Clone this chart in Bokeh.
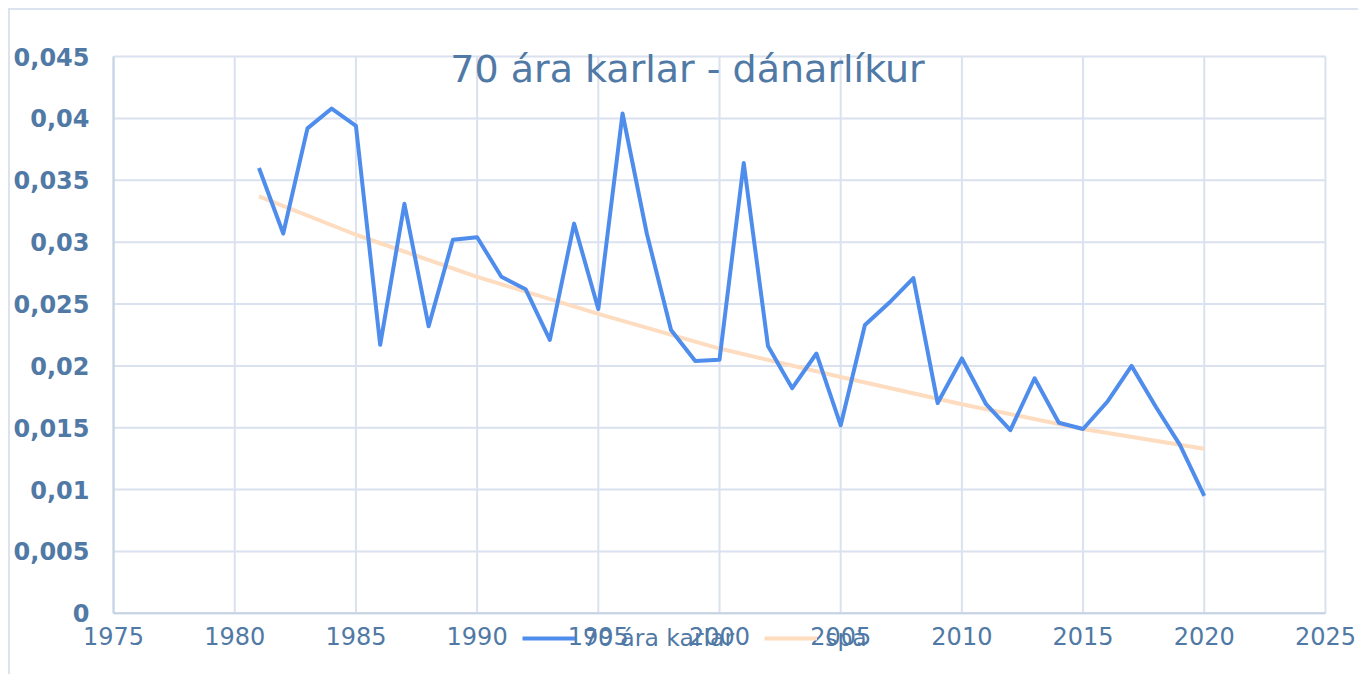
from bokeh.plotting import figure
from bokeh.models import FixedTicker, CustomJSTickFormatter, Legend, LegendItem, Label, Range1d
from bokeh.embed import file_html
from bokeh.resources import INLINE

years = list(range(1981, 2021))
death_prob = [0.0360, 0.0307, 0.0392, 0.0408, 0.0394, 0.0217, 0.0331, 0.0232, 0.0302, 0.0304,
              0.0272, 0.0262, 0.0221, 0.0315, 0.0246, 0.0404, 0.0307, 0.0229, 0.0204, 0.0205,
              0.0364, 0.0216, 0.0182, 0.0210, 0.0152, 0.0233, 0.0251, 0.0271, 0.0170, 0.0206,
              0.0169, 0.0148, 0.0190, 0.0154, 0.0149, 0.0171, 0.0200, 0.0167, 0.0136, 0.0095]
trend_years = [1981, 1985, 1990, 1995, 2000, 2005, 2010, 2015, 2020]
trend_vals = [0.0337, 0.0306, 0.0272, 0.0242, 0.0214, 0.0191, 0.0169, 0.0149, 0.0133]

x_ticks = [1975, 1980, 1985, 1990, 1995, 2000, 2005, 2010, 2015, 2020, 2025]
x_tick_labels = ["1975", "1980", "1985", "1990", "1995", "2000", "2005", "2010", "2015", "2020", "2025"]
y_ticks = [0, 0.005, 0.01, 0.015, 0.02, 0.025, 0.03, 0.035, 0.04, 0.045]
y_tick_labels = ["0", "0,005", "0,01", "0,015", "0,02", "0,025", "0,03", "0,035", "0,04", "0,045"]

title_text = "70 ára karlar - dánarlíkur"
series_names = ["70 ára karlar", "spá"]

TEXT = "#5079a5"
GRID = "#d9e2ee"
AXIS = "#c6d3e3"
FONT = "DejaVu Sans"

# layout (pixels): plot area 1210 x 555 px; the frame is extended around it so texts fit
X_MIN, X_MAX = x_ticks[0], x_ticks[-1]
Y_MIN, Y_MAX = y_ticks[0], y_ticks[-1]
xpp = (X_MAX - X_MIN) / 1210.0
ypp = (Y_MAX - Y_MIN) / 555.0
x_lo, x_hi = X_MIN - 35 * xpp, X_MAX + 35 * xpp
y_lo, y_hi = Y_MIN - 63 * ypp, Y_MAX + 36 * ypp

p = figure(width=1350, height=666, output_backend="svg", toolbar_location=None,
           x_range=Range1d(x_lo, x_hi), y_range=Range1d(y_lo, y_hi),
           x_axis_location=None,
           min_border_left=68, min_border_right=0, min_border_top=10, min_border_bottom=0)
p.styles = {"margin-left": "8px", "margin-top": "8px",
            "border-left": "2px solid #dae3ef", "border-top": "2px solid #dae3ef"}
p.outline_line_color = None
p.background_fill_color = "white"
p.border_fill_color = "white"

p.yaxis.ticker = FixedTicker(ticks=y_ticks)
p.yaxis.formatter = CustomJSTickFormatter(args=dict(tvals=y_ticks, tlabels=y_tick_labels), code="""
    for (let i = 0; i < tvals.length; i++) { if (Math.abs(tvals[i] - tick) < 1e-9) return tlabels[i]; }
    return '';
""")
ax = p.yaxis[0]
ax.axis_line_color = None
ax.major_tick_line_color = None
ax.minor_tick_line_color = None
ax.major_label_text_color = TEXT
ax.major_label_text_font = FONT
ax.major_label_text_font_size = "24px"
ax.major_label_text_font_style = "bold"
ax.major_label_standoff = -17

p.xgrid.visible = False
p.ygrid.visible = False

n_x, n_y = len(x_ticks), len(y_ticks)
# grid lines limited to the plot area
p.segment(x0=x_ticks, y0=[Y_MIN] * n_x, x1=x_ticks, y1=[Y_MAX] * n_x, line_color=GRID, line_width=2)
p.segment(x0=[X_MIN] * n_y, y0=y_ticks, x1=[X_MAX] * n_y, y1=y_ticks, line_color=GRID, line_width=2)
# axis lines
p.segment(x0=[X_MIN, X_MIN], y0=[Y_MIN, Y_MIN], x1=[X_MAX, X_MIN], y1=[Y_MIN, Y_MAX],
          line_color=AXIS, line_width=2)

# x tick labels
p.text(x=x_ticks, y=[Y_MIN] * n_x, text=x_tick_labels, text_align="center",
       text_baseline="top", y_offset=14, text_color=TEXT, text_font_size="24px",
       text_font={"value": FONT})

r2 = p.line(trend_years, trend_vals, line_color="#fddcbf", line_width=4)
r1 = p.line(years, death_prob, line_color="#4f8ded", line_width=4, line_join="round")

title = Label(x=609, y=608, x_units="screen", y_units="screen", text=title_text,
              text_align="center", text_baseline="alphabetic", text_font=FONT,
              text_font_size="38px", text_color=TEXT)
p.add_layout(title)

legend = Legend(items=[LegendItem(label=series_names[0], renderers=[r1]),
                       LegendItem(label=series_names[1], renderers=[r2])],
                orientation="horizontal", location=(444, 24),
                background_fill_alpha=0, border_line_color=None,
                label_text_font=FONT, label_text_font_size="23.5px", label_text_color=TEXT,
                glyph_width=53, glyph_height=20, label_standoff=8, spacing=30, padding=0, margin=0)
p.add_layout(legend, "center")

open("out.html", "w").write(file_html(p, INLINE))
